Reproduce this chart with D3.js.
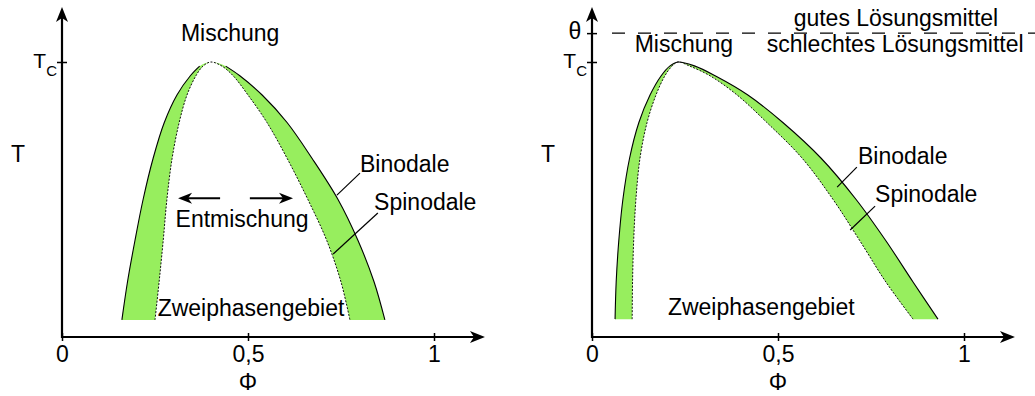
<!DOCTYPE html>
<html>
<head>
<meta charset="utf-8">
<script src="https://cdn.jsdelivr.net/npm/d3@7"></script>
<style>
  body { margin: 0; background: #fff; }
  text { font-family: "Liberation Sans", Arial, sans-serif; fill: #000; }
</style>
</head>
<body>
<svg id="chart"></svg>
<script>
// values, as [phi, T/Tc]
var xTicks = [0, 0.5, 1];
var xTickLabels = ["0", "0,5", "1"];

// left: miscibility gap of a simple mixture
var binodalLeft = [[0.161, 0.062], [0.176, 0.2], [0.196, 0.35], [0.218, 0.5], [0.245, 0.65],
  [0.275, 0.78], [0.309, 0.88], [0.345, 0.95], [0.37, 0.985], [0.40, 1.0],
  [0.44, 0.985], [0.478, 0.95], [0.538, 0.88], [0.605, 0.78], [0.672, 0.65], [0.742, 0.5],
  [0.796, 0.35], [0.839, 0.2], [0.868, 0.062]];
var spinodalLeft = [[0.25, 0.062], [0.261, 0.2], [0.272, 0.35], [0.282, 0.5], [0.296, 0.65],
  [0.315, 0.78], [0.336, 0.88], [0.36, 0.95], [0.379, 0.985], [0.40, 1.0],
  [0.43, 0.985], [0.46, 0.95], [0.50, 0.88], [0.551, 0.78], [0.605, 0.65], [0.661, 0.5],
  [0.712, 0.35], [0.75, 0.2], [0.774, 0.062]];

// right: polymer solution, skewed gap
var binodalRight = [[0.062, 0.065], [0.065, 0.2], [0.072, 0.35], [0.083, 0.5], [0.101, 0.65],
  [0.126, 0.78], [0.156, 0.88], [0.186, 0.95], [0.209, 0.985], [0.231, 1.0],
  [0.277, 0.985], [0.331, 0.95], [0.419, 0.88], [0.513, 0.78], [0.616, 0.65], [0.71, 0.5],
  [0.79, 0.35], [0.863, 0.2], [0.93, 0.065]];
var spinodalRight = [[0.108, 0.065], [0.109, 0.2], [0.112, 0.35], [0.118, 0.5], [0.129, 0.65],
  [0.148, 0.78], [0.172, 0.88], [0.196, 0.95], [0.215, 0.985], [0.231, 1.0],
  [0.263, 0.985], [0.317, 0.95], [0.39, 0.88], [0.47, 0.78], [0.565, 0.65], [0.648, 0.5],
  [0.72, 0.35], [0.79, 0.2], [0.863, 0.065]];

var theta = 1.105;

var W = 1035, H = 396;
var green = "#97ee5e";
var fs = 23;

var svg = d3.select("#chart").attr("width", W).attr("height", H);

function arrowHead(g, px, py, angle, len, half) {
  g.append("path")
    .attr("d", "M0,0 L" + (-len) + "," + (-half) + " L" + (-len + 4) + ",0 L" + (-len) + "," + half + " Z")
    .attr("transform", "translate(" + px + "," + py + ") rotate(" + angle + ")")
    .attr("fill", "#000");
}

function label(g, txt, px, py, anchor) {
  return g.append("text").attr("x", px).attr("y", py)
    .attr("text-anchor", anchor || "middle").attr("font-size", fs).text(txt);
}

function drawPanel(x0, binodal, spinodal, gapTop, yTicks) {
  var x = d3.scaleLinear().domain([0, 1]).range([x0, x0 + 372]);
  var y = d3.scaleLinear().domain([0, 1]).range([337, 62]);
  var g = svg.append("g");

  var line = d3.line().x(function(d) { return x(d[0]); }).y(function(d) { return y(d[1]); })
    .curve(d3.curveCatmullRom.alpha(0.5));
  var lineGap = d3.line().x(function(d) { return x(d[0]); }).y(function(d) { return y(d[1]); })
    .defined(function(d) { return !gapTop || d[1] < 0.99; })
    .curve(d3.curveCatmullRom.alpha(0.5));

  // green band between binodal and spinodal
  var back = line(spinodal.slice().reverse()).replace(/^M/, "L");
  g.append("path").attr("d", line(binodal) + back + "Z").attr("fill", green);

  g.append("path").attr("d", lineGap(binodal))
    .attr("fill", "none").attr("stroke", "#000").attr("stroke-width", 1.1);
  g.append("path").attr("d", line(spinodal))
    .attr("fill", "none").attr("stroke", "#111").attr("stroke-width", 1)
    .attr("stroke-dasharray", "2,1.5");

  // x axis
  var xAxis = g.append("g").attr("transform", "translate(0," + y(0) + ")")
    .call(d3.axisBottom(x).tickValues(xTicks)
      .tickFormat(function(d, i) { return xTickLabels[i]; }).tickSizeOuter(0));
  xAxis.attr("font-family", null).attr("font-size", fs);
  xAxis.select(".domain").remove();
  xAxis.selectAll(".tick line").attr("y1", -4).attr("y2", 4).attr("stroke-width", 1.5);
  xAxis.selectAll(".tick text").attr("dy", null).attr("y", 25);
  g.append("line").attr("x1", x(0) - 1).attr("x2", x(1.137) - 10)
    .attr("y1", y(0)).attr("y2", y(0)).attr("stroke", "#000").attr("stroke-width", 2.2);
  arrowHead(g, x(1.137), y(0), 0, 15, 6);

  // y axis
  var yAxis = g.append("g").attr("transform", "translate(" + x(0) + ",0)")
    .call(d3.axisLeft(y).tickValues(yTicks).tickFormat("").tickSizeOuter(0));
  yAxis.select(".domain").remove();
  yAxis.selectAll(".tick line").attr("x1", 5).attr("x2", -5).attr("stroke-width", 1.5);
  g.append("line").attr("x1", x(0)).attr("x2", x(0))
    .attr("y1", y(0) + 1).attr("y2", y(1.2) + 10).attr("stroke", "#000").attr("stroke-width", 2.2);
  arrowHead(g, x(0), y(1.2), -90, 15, 6);

  label(g, "\u03A6", x(0.5), 390);
  label(g, "T", x(0) - 44, y(0.636));
  var tc = g.append("text").attr("x", x(0) - 5).attr("y", y(1) + 6).attr("text-anchor", "end");
  tc.append("tspan").attr("font-size", 21).text("T");
  tc.append("tspan").attr("font-size", 15).attr("dy", 8).text("C");

  return { g: g, x: x, y: y };
}

function leader(p, a, b) {
  p.g.append("line")
    .attr("x1", p.x(a[0])).attr("y1", p.y(a[1]))
    .attr("x2", p.x(b[0])).attr("y2", p.y(b[1]))
    .attr("stroke", "#000").attr("stroke-width", 1.2);
}

// ---- left panel
var L = drawPanel(62, binodalLeft, spinodalLeft, true, [1]);
label(L.g, "Mischung", L.x(0.452), L.y(1.076));
label(L.g, "Entmischung", L.x(0.484), L.y(0.4));
label(L.g, "Zweiphasengebiet", L.x(0.508), L.y(0.076));
L.g.append("line").attr("x1", L.x(0.425)).attr("x2", L.x(0.312) + 8)
  .attr("y1", L.y(0.505)).attr("y2", L.y(0.505)).attr("stroke", "#000").attr("stroke-width", 2);
arrowHead(L.g, L.x(0.312), L.y(0.505), 180, 14, 5.5);
L.g.append("line").attr("x1", L.x(0.505)).attr("x2", L.x(0.621) - 8)
  .attr("y1", L.y(0.505)).attr("y2", L.y(0.505)).attr("stroke", "#000").attr("stroke-width", 2);
arrowHead(L.g, L.x(0.621), L.y(0.505), 0, 14, 5.5);
leader(L, [0.739, 0.516], [0.801, 0.596]);
label(L.g, "Binodale", L.x(0.801), L.y(0.6), "start");
leader(L, [0.729, 0.302], [0.849, 0.451]);
label(L.g, "Spinodale", L.x(0.839), L.y(0.462), "start");

// ---- right panel
var R = drawPanel(592, binodalRight, spinodalRight, false, [1, theta]);
R.g.append("line").attr("x1", R.x(0) + 20).attr("x2", W)
  .attr("y1", R.y(theta)).attr("y2", R.y(theta))
  .attr("stroke", "#000").attr("stroke-width", 1.2).attr("stroke-dasharray", "13,13");
label(R.g, "\u03B8", R.x(0) - 17, R.y(theta) + 6);
label(R.g, "gutes L\u00F6sungsmittel", R.x(0.817), R.y(1.13));
label(R.g, "schlechtes L\u00F6sungsmittel", R.x(0.815), R.y(1.035));
label(R.g, "Mischung", R.x(0.247), R.y(1.035));
label(R.g, "Zweiphasengebiet", R.x(0.455), R.y(0.08));
leader(R, [0.659, 0.545], [0.712, 0.618]);
label(R.g, "Binodale", R.x(0.715), R.y(0.629), "start");
leader(R, [0.694, 0.389], [0.761, 0.476]);
label(R.g, "Spinodale", R.x(0.761), R.y(0.491), "start");
</script>
</body>
</html>
